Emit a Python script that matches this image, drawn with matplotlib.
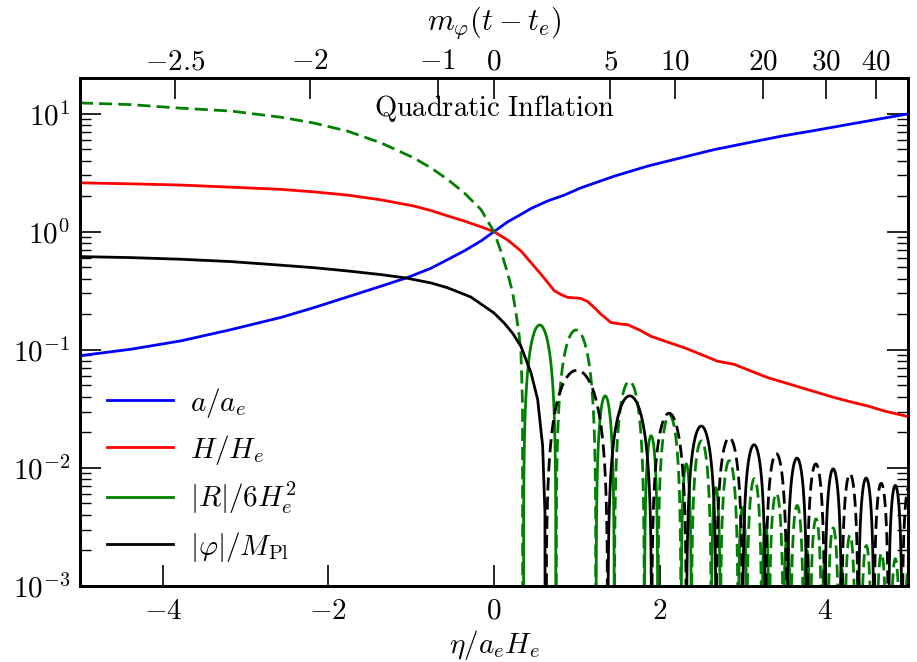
import numpy as np
import matplotlib
matplotlib.use('Agg')
import matplotlib.pyplot as plt
from matplotlib.lines import Line2D
from matplotlib.ticker import LogLocator, NullFormatter, FixedLocator, NullLocator

plt.rcParams['mathtext.fontset'] = 'cm'
plt.rcParams['font.family'] = 'serif'
plt.rcParams['font.serif'] = ['cmr10', 'DejaVu Serif']
plt.rcParams['axes.formatter.use_mathtext'] = True

FS = 21

# ---------------- data ----------------
# a / a_e
eta_a = [-5.0, -4.387, -3.78, -3.178, -2.57, -2.17, -1.77, -1.366, -1.04, -0.761, -0.56,
         -0.359, -0.157, 0.0, 0.165, 0.326, 0.447, 0.649, 0.85, 1.051, 1.454, 1.857, 2.26,
         2.66, 3.066, 3.47, 3.87, 4.27, 4.68, 5.0]
val_a = [0.089, 0.101, 0.119, 0.148, 0.188, 0.228, 0.28, 0.345, 0.41, 0.49, 0.58,
         0.687, 0.834, 1.0, 1.21, 1.40, 1.57, 1.82, 2.04, 2.35, 2.95, 3.59, 4.22,
         4.95, 5.65, 6.43, 7.18, 8.06, 9.06, 9.93]

# H / H_e
eta_H = [-5.0, -4.387, -3.78, -3.178, -2.57, -2.17, -1.77, -1.366, -0.97, -0.761, -0.56,
         -0.359, -0.157, 0.0, 0.165, 0.326, 0.447, 0.568, 0.65, 0.729, 0.8, 0.85, 0.89, 0.97,
         1.05, 1.132, 1.21, 1.293, 1.414, 1.535, 1.616, 1.776, 1.897, 2.1, 2.3, 2.5, 2.7, 2.9,
         3.106, 3.31, 3.51, 3.71, 3.91, 4.11, 4.31, 4.516, 4.717, 5.0]
val_H = [2.59, 2.54, 2.48, 2.38, 2.28, 2.17, 2.04, 1.86, 1.65, 1.51, 1.36,
         1.23, 1.10, 1.0, 0.85, 0.687, 0.547, 0.436, 0.371, 0.316, 0.296, 0.285, 0.278, 0.275,
         0.272, 0.256, 0.228, 0.20, 0.17, 0.165, 0.163, 0.145, 0.13, 0.116, 0.104, 0.0914, 0.080,
         0.0753, 0.066, 0.058, 0.0527, 0.0478, 0.0434, 0.0394, 0.0362, 0.0334, 0.0303, 0.0272]

# |R| / 6 H_e^2 : smooth (dashed) part before the first zero
eta_R = [-5.0, -4.387, -3.78, -3.178, -2.57, -2.17, -1.77, -1.366, -0.97, -0.761, -0.56,
         -0.359, -0.157, 0.0, 0.085, 0.165, 0.226, 0.266, 0.306, 0.326, 0.345, 0.355]
val_R = [12.3, 11.9, 11.1, 10.5, 9.3, 8.3, 7.1, 5.65, 4.22, 3.47, 2.77,
         2.13, 1.54, 1.0, 0.68, 0.448, 0.303, 0.206, 0.13, 0.095, 0.035, 1e-9]
# oscillation lobes of R: zero crossings and lobe peak values (first lobe solid)
zeros_R = [0.355, 0.75, 1.233, 1.454, 1.817, 1.98, 2.26, 2.385, 2.625, 2.735, 2.95, 3.055,
           3.235, 3.325, 3.495, 3.585, 3.74, 3.82, 3.96, 4.03, 4.165, 4.235, 4.365, 4.435,
           4.56, 4.62, 4.74, 4.79, 4.905, 4.955, 5.07]
peaks_R = [0.162, 0.147, 0.0407, 0.054, 0.0187, 0.0279, 0.0108, 0.0169, 0.0068, 0.0115,
           0.0046, 0.0081, 0.0033, 0.0061, 0.0026, 0.0048, 0.0020, 0.0037, 0.0016, 0.0031,
           0.0014, 0.0027, 0.0012, 0.0022, 0.0010, 0.0019, 0.0009, 0.0017, 0.0008, 0.0015]

# |phi| / M_Pl : smooth solid part before the first zero
eta_phi = [-5.0, -4.387, -3.78, -3.178, -2.57, -2.17, -1.77, -1.366, -1.06, -0.761, -0.56,
           -0.28, 0.0, 0.125, 0.226, 0.326, 0.447, 0.528, 0.588, 0.616, 0.628]
val_phi = [0.615, 0.603, 0.584, 0.558, 0.52, 0.495, 0.465, 0.433, 0.405, 0.368, 0.335,
           0.28, 0.205, 0.168, 0.138, 0.107, 0.064, 0.038, 0.0154, 0.0042, 1e-9]
zeros_phi = [0.628, 1.375, 1.905, 2.325, 2.683, 3.003, 3.28, 3.54, 3.78, 3.995, 4.2, 4.4,
             4.59, 4.765, 4.93, 5.09]
peaks_phi = [0.067, 0.0407, 0.0290, 0.0226, 0.018, 0.0157, 0.0132, 0.0121, 0.0108, 0.0098,
             0.0089, 0.0082, 0.0074, 0.0071, 0.0068]

# top axis: m_phi (t - t_e) tick labels and where they sit on the eta axis
top_labels = ['-2.5', '-2', '-1', '0', '5', '10', '20', '30', '40']
top_eta = [-3.855, -2.227, -0.68, 0.0, 1.405, 2.19, 3.25, 4.006, 4.62]

x_ticks = [-4, -2, 0, 2, 4]
y_ticks = [1e-3, 1e-2, 1e-1, 1e0, 1e1]
y_ticklabels = [r'$10^{-3}$', r'$10^{-2}$', r'$10^{-1}$', r'$10^{0}$', r'$10^{1}$']

labels = [r'$a/a_e$', r'$H/H_e$', r'$|R|/6H_e^2$', r'$|\varphi|/M_{\rm Pl}$']
colors = ['#0000ff', '#ff0000', '#008000', '#000000']

# ---------------- plotting ----------------
LW = 2.0
DASH = (4.7, 2.2)

fig = plt.figure(figsize=(9.17, 6.62), dpi=100)
ax = fig.add_axes([0.0872, 0.1148, 0.9029, 0.7674])


def draw_lobes(zeros, peaks, first_solid, color):
    for i, p in enumerate(peaks):
        z0, z1 = zeros[i], zeros[i + 1]
        x = np.linspace(z0, z1, 120)
        y = p * np.sin(np.pi * (x - z0) / (z1 - z0))
        y[0] = y[-1] = 1e-9
        solid = first_solid if i % 2 == 0 else (not first_solid)
        if solid:
            ax.plot(x, y, color=color, lw=LW)
        else:
            ax.plot(x, y, color=color, lw=LW, dashes=DASH)


ax.plot(eta_a, val_a, color=colors[0], lw=LW)
ax.plot(eta_H, val_H, color=colors[1], lw=LW)
ax.plot(eta_R, val_R, color=colors[2], lw=LW, dashes=DASH)
draw_lobes(zeros_R, peaks_R, True, colors[2])
ax.plot(eta_phi, val_phi, color=colors[3], lw=LW)
draw_lobes(zeros_phi, peaks_phi, False, colors[3])

ax.set_yscale('log')
ax.set_xlim(-5, 5)
ax.set_ylim(1e-3, 20)

ax.set_xticks(x_ticks)
ax.set_xticklabels([r'$%d$' % v if v >= 0 else r'$-%d$' % (-v) for v in x_ticks], fontsize=FS)
ax.xaxis.set_minor_locator(NullLocator())
ax.yaxis.set_major_locator(FixedLocator(y_ticks))
ax.set_yticklabels(y_ticklabels, fontsize=FS)
ax.yaxis.set_minor_locator(LogLocator(base=10, subs=np.arange(2, 10), numticks=20))
ax.yaxis.set_minor_formatter(NullFormatter())
ax.tick_params(which='major', direction='in', length=15, width=1.2, right=True, top=False, pad=9)
ax.tick_params(which='minor', direction='in', length=8, width=1.0, right=True, top=False)
ax.tick_params(axis='y', which='major', pad=7)
for s in ax.spines.values():
    s.set_linewidth(2.0)

ax.set_xlabel(r'$\eta/a_eH_e$', fontsize=FS, labelpad=2)

ax2 = ax.twiny()
ax2.set_xlim(-5, 5)
ax2.set_xticks(top_eta)
ax2.set_xticklabels([r'$%s$' % (('-' + t[1:]) if t.startswith('-') else t) for t in top_labels],
                    fontsize=FS)
ax2.xaxis.set_minor_locator(NullLocator())
ax2.tick_params(which='major', direction='in', length=15, width=1.2, pad=2)
ax2.set_xlabel(r'$m_\varphi(t-t_e)$', fontsize=FS + 1, labelpad=14)
for s in ax2.spines.values():
    s.set_linewidth(2.0)

ax.text(0.5, 0.94, r'$\mathrm{Quadratic\ Inflation}$', transform=ax.transAxes,
        ha='center', va='center', fontsize=FS - 0.5)

handles = [Line2D([0], [0], color=c, lw=LW) for c in colors]
ax.legend(handles, labels, loc='lower left', fontsize=FS, frameon=False,
          handlelength=2.25, handletextpad=0.6, labelspacing=0.45,
          bbox_to_anchor=(0.008, 0.004), borderaxespad=0.3)

fig.savefig('out.png', dpi=100)
